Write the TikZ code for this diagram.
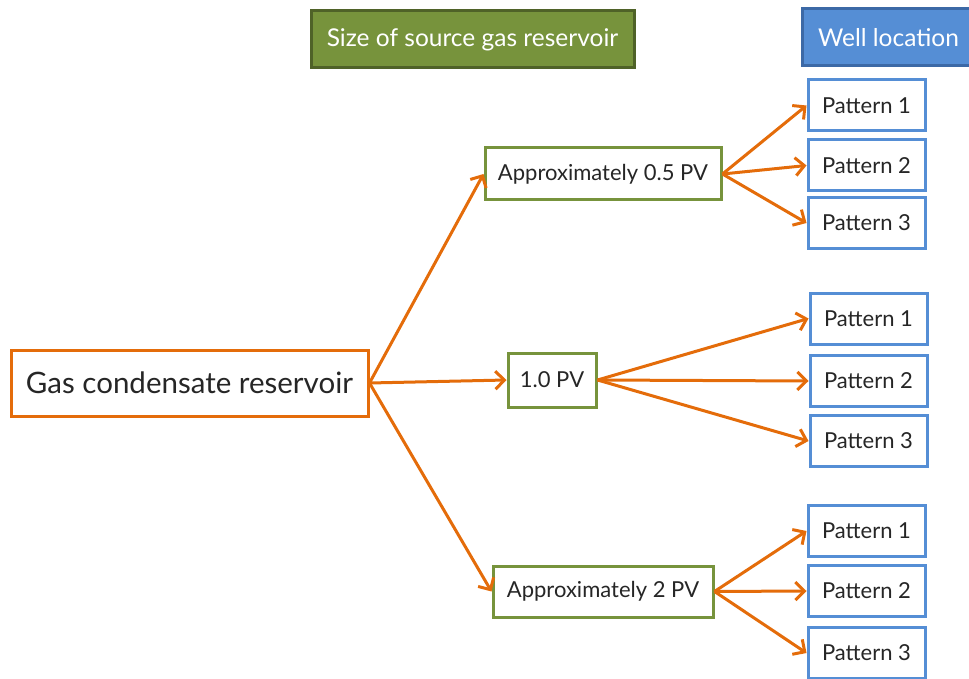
\documentclass[tikz,border=0pt]{standalone}
\usepackage{fontspec}
\setmainfont{Lato}
\usetikzlibrary{arrows.meta}
\definecolor{gorange}{HTML}{E46C0A}
\definecolor{ggreen}{HTML}{77933C}
\definecolor{gdkgreen}{HTML}{4F6228}
\definecolor{gblue}{HTML}{558ED5}
\definecolor{gdkblue}{HTML}{3C69A6}
\definecolor{gtext}{HTML}{262626}
\begin{document}
\begin{tikzpicture}[x = 1pt, y = -1pt,
  box/.style = {draw, line width = 3pt, fill = white, inner sep = 0pt, text = gtext},
  sizebox/.style = {box, draw = ggreen, minimum height = 52pt, font = \fontsize{22}{26}\selectfont},
  patbox/.style = {box, draw = gblue, minimum width = 117pt, minimum height = 51pt, font = \fontsize{22}{26}\selectfont},
  head/.style = {draw, line width = 3pt, inner sep = 0pt, text = white, minimum height = 57pt, font = \fontsize{24.5}{28}\selectfont},
  link/.style = {draw = gorange, line width = 3pt, -{Straight Barb[length = 9pt, width = 18pt]}}]
\useasboundingbox (0,0) rectangle (969,679);
% headers
\node[head, fill = ggreen, draw = gdkgreen, minimum width = 323pt] (sizehead) at (472.5,39.5) {Size of source gas reservoir};
\node[head, fill = gblue, draw = gdkblue, minimum width = 173pt] (wellhead) at (888.5,37.5) {Well location};
% root and sizes
\node[box, draw = gorange, minimum width = 357pt, minimum height = 66pt, font = \fontsize{29.5}{34}\selectfont] (res) at (189.5,383) {Gas condensate reservoir};
\node[sizebox, minimum width = 236pt] (half) at (603,174) {Approximately 0.5 PV};
\node[sizebox, minimum width = 88pt, minimum height = 54pt] (one) at (552,380) {1.0 PV};
\node[sizebox, minimum width = 220pt, minimum height = 51pt] (two) at (603,591.5) {Approximately 2 PV};
% well patterns
\foreach \i/\y in {1/105.5, 2/165.5, 3/223}
  \node[patbox] (half\i) at (866.5,\y) {Pattern \i};
\foreach \i/\y in {1/318.5, 2/381, 3/441}
  \node[patbox] (one\i) at (868.5,\y) {Pattern \i};
\foreach \i/\y in {1/531, 2/591, 3/653}
  \node[patbox] (two\i) at (866.5,\y) {Pattern \i};
% arrows
\foreach \s in {half, one, two}
  \draw[link] (res.east) -- (\s.west);
\foreach \s in {half, one, two}
  \foreach \i in {1,2,3}
    \draw[link] (\s.east) -- (\s\i.west);
\end{tikzpicture}
\end{document}
